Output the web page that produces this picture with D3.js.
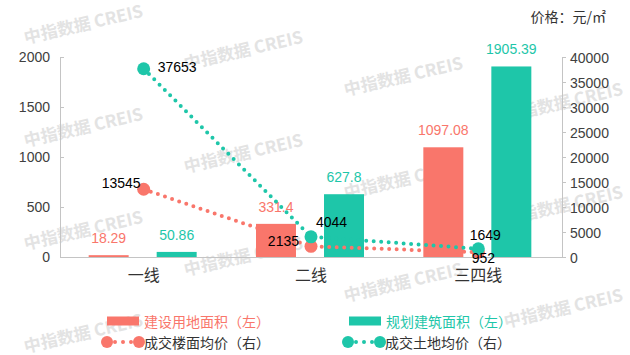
<!DOCTYPE html>
<html><head><meta charset="utf-8">
<script src="https://cdn.jsdelivr.net/npm/d3@7"></script>
<style>
body{margin:0;background:#fff;}
text{font-family:"Liberation Sans",Arial,"Noto Sans CJK SC",sans-serif;}
.cjk{font-family:"Noto Sans CJK SC","Liberation Sans",sans-serif;}
</style></head>
<body><svg id="c" width="630" height="355"></svg>
<script>
const categories = ["一线", "二线", "三四线"];
const landArea = [18.29, 331.4, 1097.08];       // 建设用地面积（左）
const buildArea = [50.86, 627.8, 1905.39];      // 规划建筑面积（左）
const floorPrice = [13545, 2135, 952];          // 成交楼面均价（右）
const landPrice = [37653, 4044, 1649];          // 成交土地均价（右）
const leftTicks = [0, 500, 1000, 1500, 2000];
const rightTicks = [0, 5000, 10000, 15000, 20000, 25000, 30000, 35000, 40000];
const seriesNames = ["建设用地面积（左）", "规划建筑面积（左）", "成交楼面均价（右）", "成交土地均价（右）"];
const unitTitle = "价格：元/㎡";

const RED = "#f9766b", GREEN = "#1ec6a9", AXIS = "#c4c4c4", TXT = "#404040";
// label placements [dx, dy, anchor] relative to point
const floorLblPos = [[-3, -6, "end"], [-12, -5, "end"], [5, 6, "middle"]];
const landLblPos = [[14, -2, "start"], [5, -15, "start"], [7, -14, "middle"]];

const svg = d3.select("#c");
const L = 60, R = 562, T = 57, B = 257;

const x = d3.scaleBand().domain(categories).range([L, R]).padding(0);
const x1 = d3.scaleBand().domain(["a", "b"]).range([-55, 53]).paddingInner(0.412).paddingOuter(0);
const yL = d3.scaleLinear().domain([0, 2000]).range([B, T]);
const yR = d3.scaleLinear().domain([0, 40000]).range([B, T]);
const cx = c => x(c) + x.bandwidth() / 2;

// watermark
const wm = svg.append("g");
for (let i = 0; i < 4; i++) for (let j = 0; j < 4; j++) {
  const px = 83 + 160 * i, py = 23 + 26 * i + 103 * j;
  if (py > 335) continue;
  wm.append("text").attr("class", "cjk")
    .attr("transform", `translate(${px},${py}) rotate(-13)`)
    .attr("text-anchor", "middle").attr("dominant-baseline", "central")
    .attr("font-size", 17).attr("font-weight", "bold")
    .attr("fill", "#e3e3e3")
    .text("中指数据 CREIS");
}

// axes
const gL = svg.append("g").attr("transform", `translate(${L},0)`)
  .call(d3.axisRight(yL).tickValues(leftTicks).tickSize(4).tickFormat(d3.format("d")));
gL.selectAll("text").remove();
gL.selectAll("line,path").attr("stroke", AXIS);
svg.append("g").selectAll("text").data(leftTicks).join("text")
  .attr("x", L - 10).attr("y", d => yL(d)).attr("text-anchor", "end")
  .attr("dominant-baseline", "central").attr("font-size", 14).attr("fill", TXT).text(d => d);

const gR = svg.append("g").attr("transform", `translate(${R},0)`)
  .call(d3.axisRight(yR).tickValues(rightTicks).tickSize(4).tickFormat(d3.format("d")));
gR.selectAll("line,path").attr("stroke", AXIS);
gR.selectAll("text").attr("font-size", 14).attr("fill", TXT).attr("x", 8)
  .attr("dy", null).attr("dominant-baseline", "central")
  .style("font-family", '"Liberation Sans",Arial,sans-serif');

const gX = svg.append("g").attr("transform", `translate(0,${B})`)
  .call(d3.axisBottom(x).tickSize(0).tickPadding(15));
gX.select("path").attr("stroke", AXIS);
gX.selectAll("text").attr("font-size", 16).attr("fill", "#333").attr("class", "cjk").attr("dy", "0.55em");

// bars
const bars = [[landArea, "a", RED], [buildArea, "b", GREEN]];
bars.forEach(([vals, key, col]) => {
  svg.append("g").selectAll("rect").data(vals).join("rect")
    .attr("x", (d, i) => cx(categories[i]) + x1(key)).attr("width", x1.bandwidth())
    .attr("y", d => yL(d)).attr("height", d => B - yL(d)).attr("fill", col);
  svg.append("g").selectAll("text").data(vals).join("text")
    .attr("x", (d, i) => cx(categories[i]) + x1(key) + x1.bandwidth() / 2)
    .attr("y", d => yL(d) - 12).attr("text-anchor", "middle")
    .attr("font-size", 14).attr("fill", col).text(d => d);
});

// lines
const lines = [[floorPrice, RED, floorLblPos], [landPrice, GREEN, landLblPos]];
lines.forEach(([vals, col]) => {
  const pts = vals.map((v, i) => [cx(categories[i]), yR(v)]);
  svg.append("path").attr("d", d3.line()(pts)).attr("fill", "none")
    .attr("stroke", col).attr("stroke-width", 4).attr("stroke-linecap", "round")
    .attr("stroke-dasharray", "0 7.5");
  svg.append("g").selectAll("circle").data(pts).join("circle")
    .attr("cx", d => d[0]).attr("cy", d => d[1]).attr("r", 6.5).attr("fill", col);
});
lines.forEach(([vals, col, pos]) => {
  svg.append("g").selectAll("text").data(vals).join("text")
    .attr("x", (d, i) => cx(categories[i]) + pos[i][0])
    .attr("y", d => yR(d)).attr("dy", (d, i) => pos[i][1])
    .attr("dominant-baseline", "central").attr("text-anchor", (d, i) => pos[i][2])
    .attr("font-size", 14).attr("fill", "#000").text(d => d);
});

// unit title
svg.append("text").attr("class", "cjk").attr("x", 606).attr("y", 16).attr("text-anchor", "end")
  .attr("dominant-baseline", "central").attr("font-size", 14).attr("fill", "#333").text(unitTitle);

// legend
const leg = svg.append("g");
const legItems = [
  {x: 107, y: 321, type: "rect", col: RED, tcol: RED, name: seriesNames[0]},
  {x: 349, y: 321, type: "rect", col: GREEN, tcol: GREEN, name: seriesNames[1]},
  {x: 107, y: 342, type: "line", col: RED, tcol: "#333", name: seriesNames[2]},
  {x: 348, y: 342, type: "line", col: GREEN, tcol: "#333", name: seriesNames[3]}
];
legItems.forEach(it => {
  if (it.type === "rect") {
    leg.append("rect").attr("x", it.x).attr("y", it.y - 4.5).attr("width", 32).attr("height", 9).attr("fill", it.col);
  } else {
    leg.append("line").attr("x1", it.x).attr("x2", it.x + 32).attr("y1", it.y).attr("y2", it.y)
      .attr("stroke", it.col).attr("stroke-width", 4).attr("stroke-linecap", "round").attr("stroke-dasharray", "0 8");
    leg.append("circle").attr("cx", it.x).attr("cy", it.y).attr("r", 6).attr("fill", it.col);
    leg.append("circle").attr("cx", it.x + 32).attr("cy", it.y).attr("r", 6).attr("fill", it.col);
  }
  leg.append("text").attr("class", "cjk").attr("x", it.x + 37).attr("y", it.y)
    .attr("dominant-baseline", "central").attr("font-size", 14).attr("fill", it.tcol).text(it.name);
});
</script></body></html>
